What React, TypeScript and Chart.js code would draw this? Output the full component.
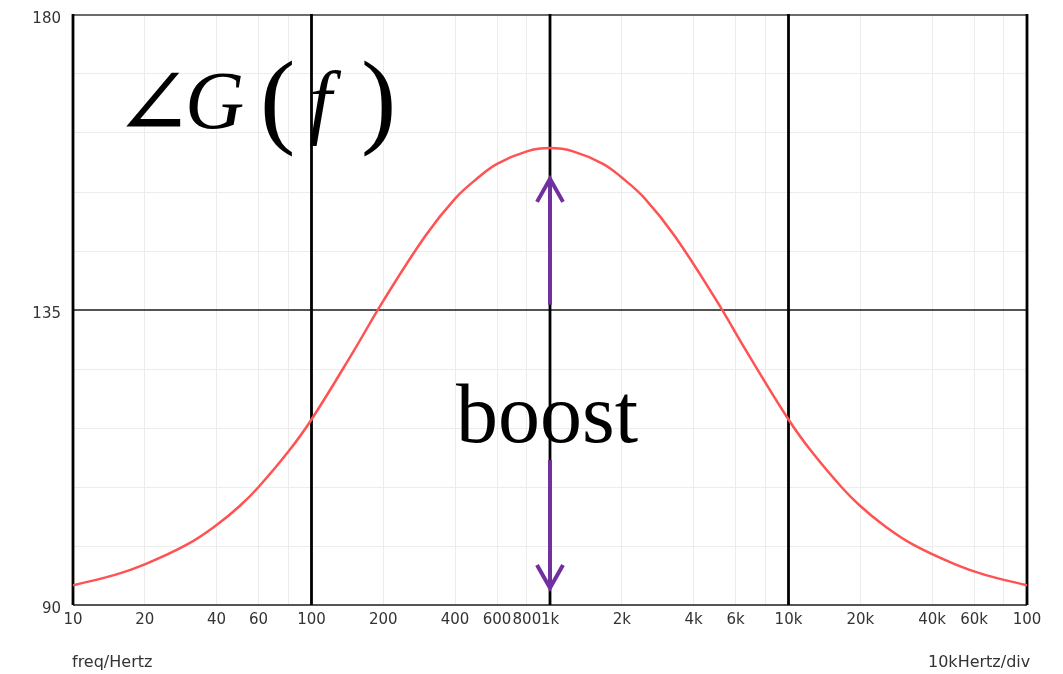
import { useEffect, useRef } from "react";
import { Chart, registerables } from "chart.js";

Chart.register(...registerables);

// Phase response of the lead network (degrees) sampled along a log frequency axis
const freqHz = [
  10, 15, 20, 30, 40, 50, 60, 80, 100, 150, 200, 300, 400, 500, 600, 800, 1000,
  1250, 1667, 2000, 2500, 3333, 5000, 6667, 10000, 12500, 16667, 20000, 25000,
  33333, 50000, 66667, 100000,
];
const phaseDeg = [
  93.0, 94.6, 96.2, 99.2, 102.2, 105.1, 108.0, 113.4, 118.3, 128.7, 136.4, 146.3,
  152.0, 155.2, 157.3, 159.2, 159.7, 159.2, 157.3, 155.2, 152.0, 146.3, 136.4,
  128.7, 118.3, 113.4, 108.0, 105.1, 102.2, 99.2, 96.2, 94.6, 93.0,
];

// Frequency ticks and their printed labels
const xTickValues = [
  10, 20, 40, 60, 80, 100, 200, 400, 600, 800, 1000, 2000, 4000, 6000, 8000,
  10000, 20000, 40000, 60000, 80000, 100000,
];
const xTickLabels = [
  "10", "20", "40", "60", "", "100", "200", "400", "600", "800", "1k", "2k",
  "4k", "6k", "", "10k", "20k", "40k", "60k", "", "100",
];
const majorFreqs = [10, 100, 1000, 10000, 100000];

// Phase axis
const yMin = 90;
const yMax = 180;
const yStep = 9;
const yLabelled = [90, 135, 180];

// Boost arrows at the centre frequency (phase values, degrees)
const boostFreq = 1000;
const boostUp = [135.8, 155.0];
const boostDown = [112.1, 92.6];

const SERIF = "'Liberation Serif', 'DejaVu Serif', serif";
const SANS = "'DejaVu Sans', sans-serif";

const overlayPlugin = {
  id: "bodeOverlay",
  beforeDatasetsDraw(chart: any) {
    const { ctx, chartArea: a, scales } = chart;
    const xs = scales.x;
    const ys = scales.y;
    ctx.save();
    // horizontal frame lines
    const hLine = (v: number, color: string, w: number) => {
      const y = ys.getPixelForValue(v);
      ctx.strokeStyle = color;
      ctx.lineWidth = w;
      ctx.beginPath();
      ctx.moveTo(a.left, y);
      ctx.lineTo(a.right, y);
      ctx.stroke();
    };
    hLine(180, "#3a3a3a", 1.6);
    hLine(135, "#1a1a1a", 1.4);
    hLine(90, "#555555", 2.2);
    // decade lines
    ctx.strokeStyle = "#000000";
    ctx.lineWidth = 2.8;
    for (const f of majorFreqs) {
      const x = xs.getPixelForValue(f);
      ctx.beginPath();
      ctx.moveTo(x, a.top - 1);
      ctx.lineTo(x, a.bottom);
      ctx.stroke();
    }
    ctx.restore();
  },
  afterDatasetsDraw(chart: any) {
    const { ctx, chartArea: a, scales } = chart;
    const xs = scales.x;
    const ys = scales.y;
    ctx.save();

    // boost arrows
    const ax = xs.getPixelForValue(boostFreq);
    ctx.strokeStyle = "#7030A0";
    ctx.lineWidth = 4;
    ctx.lineCap = "butt";
    ctx.lineJoin = "miter";
    const arrow = (fromV: number, toV: number) => {
      const y0 = ys.getPixelForValue(fromV);
      const y1 = ys.getPixelForValue(toV);
      const dir = y1 < y0 ? 1 : -1;
      ctx.beginPath();
      ctx.moveTo(ax, y0);
      ctx.lineTo(ax, y1);
      ctx.stroke();
      ctx.beginPath();
      ctx.moveTo(ax - 13, y1 + dir * 23);
      ctx.lineTo(ax, y1);
      ctx.lineTo(ax + 13, y1 + dir * 23);
      ctx.stroke();
    };
    arrow(boostUp[0], boostUp[1]);
    arrow(boostDown[0], boostDown[1]);

    // math label
    ctx.fillStyle = "#000000";
    ctx.textBaseline = "alphabetic";
    ctx.textAlign = "left";
    ctx.font = `96px ${SERIF}`;
    ctx.fillText("\u2220", a.left + 40, a.top + 121);
    ctx.font = `italic 82px ${SERIF}`;
    ctx.fillText("G", a.left + 112, a.top + 113);
    ctx.font = `106px ${SERIF}`;
    ctx.fillText("(", a.left + 187, a.top + 119);
    ctx.font = `italic 82px ${SERIF}`;
    ctx.fillText("f", a.left + 236, a.top + 113);
    ctx.font = `106px ${SERIF}`;
    ctx.fillText(")", a.left + 288, a.top + 119);

    // boost caption
    ctx.font = `84px ${SERIF}`;
    ctx.textAlign = "center";
    ctx.fillText("boost", ax - 3, a.top + 427);

    // axis captions
    ctx.font = `16px ${SANS}`;
    ctx.fillStyle = "#333333";
    ctx.textBaseline = "middle";
    ctx.textAlign = "left";
    ctx.fillText("freq/Hertz", a.left - 1, 663);
    ctx.fillText("10kHertz/div", 928, 663);
    ctx.restore();
  },
};

export default function App() {
  const canvasRef = useRef<HTMLCanvasElement | null>(null);

  useEffect(() => {
    const canvas = canvasRef.current;
    if (!canvas) return;
    const chart = new Chart(canvas, {
      type: "line",
      data: {
        datasets: [
          {
            data: freqHz.map((f, i) => ({ x: f, y: phaseDeg[i] })),
            borderColor: "#ff5252",
            borderWidth: 2.5,
            pointRadius: 0,
            tension: 0.4,
            fill: false,
          },
        ],
      },
      options: {
        responsive: false,
        animation: false,
        devicePixelRatio: 1,
        layout: { padding: { left: 0, right: 36, top: 15, bottom: 0 } },
        plugins: {
          legend: { display: false },
          tooltip: { enabled: false },
          title: { display: false },
        },
        scales: {
          x: {
            type: "logarithmic",
            min: 10,
            max: 100000,
            afterBuildTicks: (scale: any) => {
              scale.ticks = xTickValues.map((v) => ({ value: v }));
            },
            afterFit: (scale: any) => {
              scale.height = 69;
              scale.paddingLeft = 0;
              scale.paddingRight = 0;
            },
            ticks: {
              autoSkip: false,
              maxRotation: 0,
              minRotation: 0,
              padding: 6,
              color: "#333333",
              font: { family: "DejaVu Sans", size: 15 },
              callback: (value: any) => {
                const i = xTickValues.indexOf(Number(value));
                return i >= 0 ? xTickLabels[i] : "";
              },
            },
            grid: {
              drawTicks: false,
              color: (c: any) =>
                majorFreqs.includes(c.tick?.value) ? "rgba(0,0,0,0)" : "#ececec",
              lineWidth: 1,
            },
            border: { display: false },
          },
          y: {
            type: "linear",
            min: yMin,
            max: yMax,
            afterFit: (scale: any) => {
              scale.width = 73;
              scale.paddingTop = 0;
              scale.paddingBottom = 0;
            },
            ticks: {
              stepSize: yStep,
              autoSkip: false,
              padding: 12,
              labelOffset: 4,
              color: "#333333",
              font: { family: "DejaVu Sans", size: 15 },
              callback: (value: any) =>
                yLabelled.includes(Number(value)) ? String(value) : "",
            },
            grid: {
              drawTicks: false,
              color: (c: any) =>
                yLabelled.includes(c.tick?.value) ? "rgba(0,0,0,0)" : "#ececec",
              lineWidth: 1,
            },
            border: { display: false },
          },
        },
      },
      plugins: [overlayPlugin],
    });
    return () => chart.destroy();
  }, []);

  return (
    <div style={{ position: "absolute", left: 0, top: 0, width: 1063, height: 674, background: "#ffffff" }}>
      <canvas ref={canvasRef} width={1063} height={674} style={{ display: "block" }} />
    </div>
  );
}
